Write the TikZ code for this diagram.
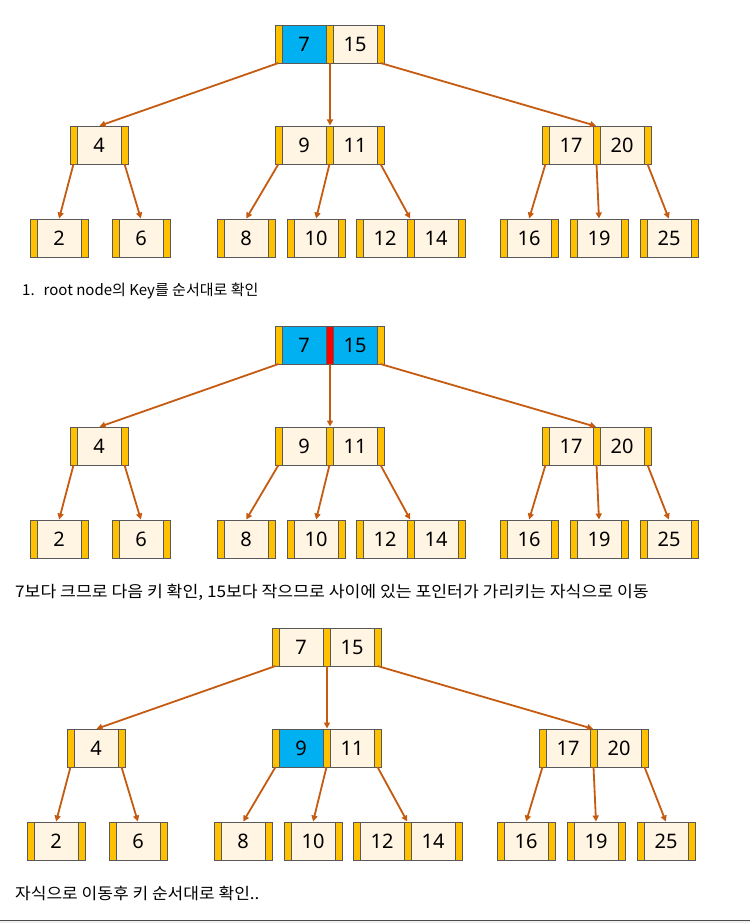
\documentclass[tikz,border=0pt]{standalone}
\usepackage{fontspec}
\usepackage{graphicx}
\setmainfont{Noto Sans}
\newfontfamily\kr{Noto Sans CJK KR}
\usetikzlibrary{arrows.meta}
\definecolor{keyc}{HTML}{FFF5E2}
\definecolor{ptrc}{HTML}{FFC000}
\definecolor{bluec}{HTML}{00B0F0}
\definecolor{redc}{HTML}{FF0000}
\definecolor{edgec}{HTML}{595959}
\definecolor{arrc}{HTML}{C55A11}
\tikzset{
  keybox/.style={draw=edgec,line width=0.7pt,minimum width=44pt,minimum height=38pt,inner sep=0pt,outer sep=0pt,font=\fontsize{20}{22}\selectfont},
  ptrbox/.style={draw=edgec,line width=0.7pt,fill=ptrc,minimum width=7pt,minimum height=38pt,inner sep=0pt,outer sep=0pt},
  arr/.style={draw=arrc,line width=1.8pt,-{Triangle[length=6pt,width=6pt]},shorten >=0.5pt},
  caption/.style={anchor=west,inner sep=0pt,font=\kr\fontsize{15}{18}\selectfont},
  caption2/.style={anchor=west,inner sep=0pt,font=\kr\fontsize{16}{18}\selectfont}
}
% one-key node: name, x, y, key, keyfill
\newcommand\bone[5]{%
  \node[ptrbox,anchor=north west] (#1p0) at (#2,#3) {};
  \node[keybox,fill=#5,anchor=north west] (#1k1) at (#1p0.north east) {#4};
  \node[ptrbox,anchor=north west] (#1p1) at (#1k1.north east) {};}
% two-key node: name, x, y, k1, k2, fill1, fill2, midptrfill
\newcommand\btwo[8]{%
  \node[ptrbox,anchor=north west] (#1p0) at (#2,#3) {};
  \node[keybox,fill=#6,anchor=north west] (#1k1) at (#1p0.north east) {#4};
  \node[ptrbox,fill=#8,anchor=north west] (#1p1) at (#1k1.north east) {};
  \node[keybox,fill=#7,anchor=north west] (#1k2) at (#1p1.north east) {#5};
  \node[ptrbox,anchor=north west] (#1p2) at (#1k2.north east) {};}
% whole tree: prefix, root fill1, root fill2, root mid ptr, fill of 9
\newcommand\btree[5]{%
  \btwo{#1R}{275}{25}{7}{15}{#2}{#3}{#4}
  \bone{#1A}{70}{126}{4}{keyc}
  \btwo{#1B}{275}{126}{9}{11}{#5}{keyc}{ptrc}
  \btwo{#1C}{542}{126}{17}{20}{keyc}{keyc}{ptrc}
  \bone{#1D}{30}{219}{2}{keyc}
  \bone{#1E}{112}{219}{6}{keyc}
  \bone{#1F}{217}{219}{8}{keyc}
  \bone{#1G}{287}{219}{10}{keyc}
  \btwo{#1H}{356}{219}{12}{14}{keyc}{keyc}{ptrc}
  \bone{#1I}{500}{219}{16}{keyc}
  \bone{#1J}{570}{219}{19}{keyc}
  \bone{#1K}{640}{219}{25}{keyc}
  \draw[arr] (#1Rp0.south) -- (#1Ak1.north);
  \draw[arr] ([xshift=0.5pt]#1Rp1.south) -- ([xshift=0.5pt]#1Bp1.north);
  \draw[arr] (#1Rp2.south) -- (#1Cp1.north);
  \draw[arr] (#1Ap0.south) -- (#1Dk1.north);
  \draw[arr] (#1Ap1.south) -- (#1Ek1.north);
  \draw[arr] (#1Bp0.south) -- (#1Fk1.north);
  \draw[arr] (#1Bp1.south) -- (#1Gk1.north);
  \draw[arr] (#1Bp2.south) -- (#1Hp1.north);
  \draw[arr] (#1Cp0.south) -- (#1Ik1.north);
  \draw[arr] (#1Cp1.south) -- (#1Jk1.north);
  \draw[arr] (#1Cp2.south) -- (#1Kk1.north);}
\begin{document}
\begin{tikzpicture}[x=1pt,y=-1pt]
\useasboundingbox (0,0) rectangle (750,923);
\fill[white] (0,0) rectangle (750,923);
\begin{scope}
  \btree{a}{bluec}{keyc}{ptrc}{keyc}
\end{scope}
\begin{scope}[shift={(0,301)}]
  \btree{b}{bluec}{bluec}{redc}{keyc}
\end{scope}
\begin{scope}[shift={(-3,603)}]
  \btree{c}{keyc}{keyc}{ptrc}{bluec}
\end{scope}
\node[caption] (t1) at (22,291) {1.\hspace{0.6em}root node의 Key를 순서대로 확인};
\node[caption2] (t2) at (15,592) {\scalebox{1.075}[1]{7보다 크므로 다음 키 확인, 15보다 작으므로 사이에 있는 포인터가 가리키는 자식으로 이동}};
\node[caption2] (t3) at (15,893) {\scalebox{1.065}[1]{자식으로 이동후 키 순서대로 확인..}};
\fill[gray!12] (0,921) rectangle (750,923);
\draw[gray!60!black,line width=1.2pt] (0,920.5) -- (750,920.5);
\end{tikzpicture}
\end{document}
